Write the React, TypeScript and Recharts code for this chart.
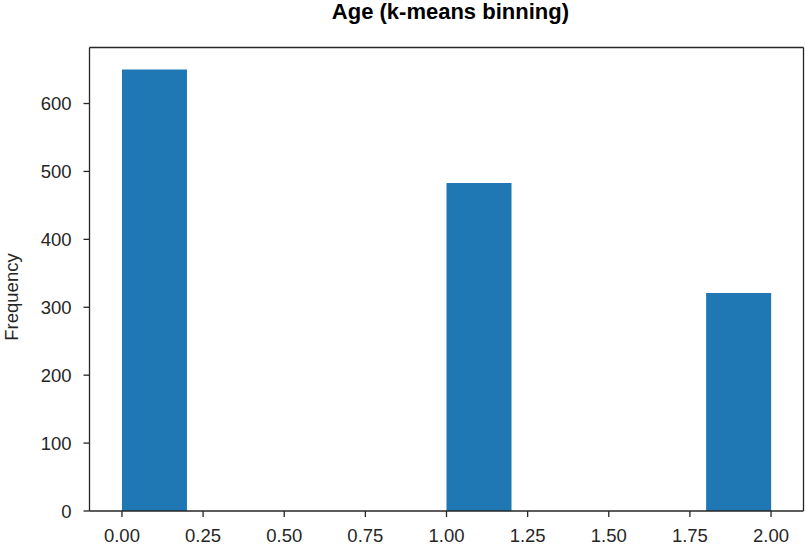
import React from "react";
import { BarChart, Bar, XAxis, YAxis, ReferenceLine } from "recharts";

const binStarts = [0.0, 0.2, 0.4, 0.6, 0.8, 1.0, 1.2, 1.4, 1.6, 1.8];
const binWidth = 0.2;
const counts = [650, 0, 0, 0, 0, 483, 0, 0, 0, 321];
const xTicks = [0, 0.25, 0.5, 0.75, 1.0, 1.25, 1.5, 1.75, 2.0];
const yTicks = [0, 100, 200, 300, 400, 500, 600];
const title = "Age (k-means binning)";
const yLabel = "Frequency";

const data = binStarts.map((s, i) => ({
  bin: s.toFixed(1),
  mid: s + binWidth / 2,
  count: counts[i],
}));

const W = 805;
const H = 549;
const margin = { top: 47.5, right: 1.5, bottom: 0, left: 0 };
const yAxisWidth = 89.5;
const xAxisHeight = 38;
const xDomain: [number, number] = [-0.1, 2.1];
const yDomain: [number, number] = [0, 682.5];
const plotWidth = W - margin.left - margin.right - yAxisWidth;
const edgePad = (plotWidth * 0.1) / (xDomain[1] - xDomain[0]);

const FONT = "'Liberation Sans', Arial, Helvetica, sans-serif";
const INK = "#262626";
const tickStyle = { fontSize: 18.5, fill: INK, fontFamily: FONT };
const lineStyle = { stroke: INK, strokeWidth: 1.3 };

export default function App() {
  return (
    <div style={{ position: "absolute", left: 0, top: 0, width: W, height: H, background: "#fff" }}>
      <BarChart width={W} height={H} data={data} margin={margin} barCategoryGap={0} barGap={0}>
        <XAxis
          xAxisId="bins"
          dataKey="bin"
          type="category"
          hide
          height={0}
          padding={{ left: edgePad, right: edgePad }}
        />
        <XAxis
          xAxisId="num"
          dataKey="mid"
          type="number"
          domain={xDomain}
          allowDataOverflow
          ticks={xTicks}
          tickFormatter={(v: number) => v.toFixed(2)}
          height={xAxisHeight}
          tick={tickStyle}
          tickSize={6}
          tickMargin={12}
          axisLine={lineStyle}
          tickLine={lineStyle}
          interval={0}
        />
        <YAxis
          type="number"
          domain={yDomain}
          allowDataOverflow
          ticks={yTicks}
          width={yAxisWidth}
          tick={tickStyle}
          tickSize={6}
          tickMargin={12}
          axisLine={lineStyle}
          tickLine={lineStyle}
          interval={0}
        />
        <Bar dataKey="count" xAxisId="bins" fill="#1f77b4" isAnimationActive={false} />
        <ReferenceLine xAxisId="num" y={yDomain[1]} stroke={INK} strokeWidth={1.3} ifOverflow="visible" />
        <ReferenceLine xAxisId="num" x={xDomain[1]} stroke={INK} strokeWidth={1.3} ifOverflow="visible" />
      </BarChart>
      <svg
        width={W}
        height={H}
        style={{ position: "absolute", left: 0, top: 0, pointerEvents: "none" }}
      >
        <text
          x={450.4}
          y={19}
          textAnchor="middle"
          fontFamily={FONT}
          fontWeight="bold"
          fontSize={22}
          fill="#000"
        >
          {title}
        </text>
        <text
          x={18}
          y={297}
          transform="rotate(-90 18 297)"
          textAnchor="middle"
          fontFamily={FONT}
          fontSize={18.5}
          fill={INK}
        >
          {yLabel}
        </text>
      </svg>
    </div>
  );
}
